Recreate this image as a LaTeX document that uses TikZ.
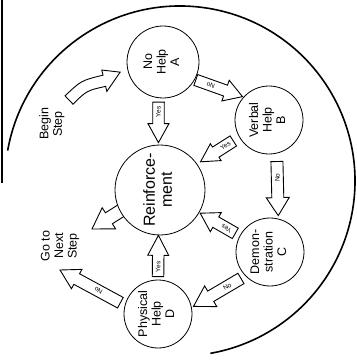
\documentclass[tikz,border=0pt]{standalone}
\usepackage{fontspec}
\setmainfont{Liberation Sans}
\usepackage{graphicx}
\usetikzlibrary{calc,backgrounds}
\newcommand{\vtxt}[1]{\rotatebox{90}{\begin{tabular}{@{}c@{}}#1\end{tabular}}}
% #1 start, #2 end, #3 shorten start, #4 shorten end, #5 bend, #6 shaft half width, #7 head half width, #8 head length
\newcommand{\barrowdraw}[8]{%
  \coordinate (baS) at ($(#1)!#3!(#2)$);
  \coordinate (baT) at ($(#2)!#4!(#1)$);
  \coordinate (baH) at ($(baT)!#8!(baS)$);
  \coordinate (baM) at ($(baS)!0.5!(baH)$);
  \coordinate (baC) at ($(baM)!#5!90:(baH)$);
  \coordinate (baD) at ($(baS)!#6!90:(baH)$);
  \coordinate (baE) at ($(baS)!#6!-90:(baH)$);
  \draw[barrow] ($(baS)!#6!90:(baC)$) .. controls ($(baC)+(baD)-(baS)$) .. ($(baH)!#6!-90:(baC)$)
     -- ($(baH)!#7!-90:(baC)$) -- (baT) -- ($(baH)!#7!90:(baC)$) -- ($(baH)!#6!90:(baC)$)
     .. controls ($(baC)+(baE)-(baS)$) .. ($(baS)!#6!-90:(baC)$) -- cycle;
}
\tikzset{
  circ/.style={circle, draw, line width=0.8pt, fill=white, inner sep=0pt, font=\fontsize{12.5}{13.5}\selectfont},
  bigcirc/.style={circ, font=\fontsize{16}{17}\selectfont},
  barrow/.style={draw, fill=white, line width=0.9pt, line join=miter},
  lbl/.style={font=\fontsize{6.5}{7}\selectfont, inner sep=0pt},
  freetxt/.style={rotate=90, align=center, font=\fontsize{12.5}{13.5}\selectfont},
  outerline/.style={line width=1.6pt},
}
\begin{document}
\begin{tikzpicture}[x=1pt, y=1pt]
\useasboundingbox (0,0) rectangle (357,360);

% frame pieces
\draw[outerline] (2,360) -- (2,177);
\draw[outerline] ($(180,179)+(170:175)$) arc[start angle=170, end angle=-80, radius=175];

% circles
\node[circ, minimum size=72pt] (A) at (163,298) {\vtxt{No\\Help\\A}};
\node[circ, minimum size=68pt] (B) at (269,240) {\vtxt{Verbal\\Help\\B}};
\node[bigcirc, minimum size=90pt] (R) at (160,170) {\vtxt{Reinforce-\\ment}};
\node[circ, minimum size=68pt] (C) at (270,108) {\vtxt{Demon-\\stration\\C}};
\node[circ, minimum size=68pt] (D) at (158,46) {\vtxt{Physical\\Help\\D}};

% free texts
\node[freetxt] (begin) at (52,236) {Begin\\Step};
\node[freetxt] (goto) at (60,114) {Go to\\Next\\Step};

\coordinate (bstart) at (69,260);
\coordinate (gotip) at (60,90);
\coordinate (outtip) at (92,131);

% reinforcement out arrow (behind circle)
\begin{scope}[on background layer]
  \barrowdraw{R.208}{outtip}{-6pt}{0pt}{0pt}{6.5pt}{12.5pt}{20pt}
\end{scope}

% begin step
\barrowdraw{bstart}{A.190}{0pt}{8pt}{5.5pt}{5.75pt}{11pt}{18pt}

% A -> R
\barrowdraw{A.263}{R.92}{4pt}{2pt}{0pt}{5.75pt}{10.5pt}{19pt}
\node[lbl, rotate=90] (l1) at ($(baS)!0.45!(baH)$) {Yes};

% A -> B
\barrowdraw{A.331}{B.138}{1pt}{1pt}{0pt}{5.75pt}{11pt}{18pt}
\node[lbl, rotate=160] (l2) at ($(baS)!0.5!(baH)$) {No};

% B -> R
\barrowdraw{B.210}{R.35}{7pt}{4pt}{0pt}{6pt}{10pt}{18pt}
\node[lbl, rotate=32] (l3) at ($(baS)!0.45!(baH)$) {Yes};

% B -> C
\barrowdraw{B.283}{C.76}{8pt}{3pt}{0pt}{6pt}{11.5pt}{18pt}
\node[lbl, rotate=90] (l4) at ($(baS)!0.45!(baH)$) {No};

% C -> R
\barrowdraw{C.152}{R.330}{5pt}{1pt}{0pt}{6pt}{11pt}{18pt}
\node[lbl, rotate=150] (l5) at ($(baS)!0.45!(baH)$) {Yes};

% C -> D
\barrowdraw{C.224}{D.11}{5pt}{2pt}{0pt}{6pt}{12pt}{20pt}
\node[lbl, rotate=31] (l6) at ($(baS)!0.45!(baH)$) {No};

% D -> R
\barrowdraw{D.90}{R.268}{3pt}{0pt}{0pt}{5.75pt}{10.5pt}{20pt}
\node[lbl, rotate=90] (l7) at ($(baS)!0.45!(baH)$) {Yes};

% D -> Go to next step
\barrowdraw{D.165}{gotip}{5pt}{0pt}{0pt}{6pt}{11pt}{19pt}
\node[lbl, rotate=152] (l8) at ($(baS)!0.5!(baH)$) {No};
\end{tikzpicture}
\end{document}
